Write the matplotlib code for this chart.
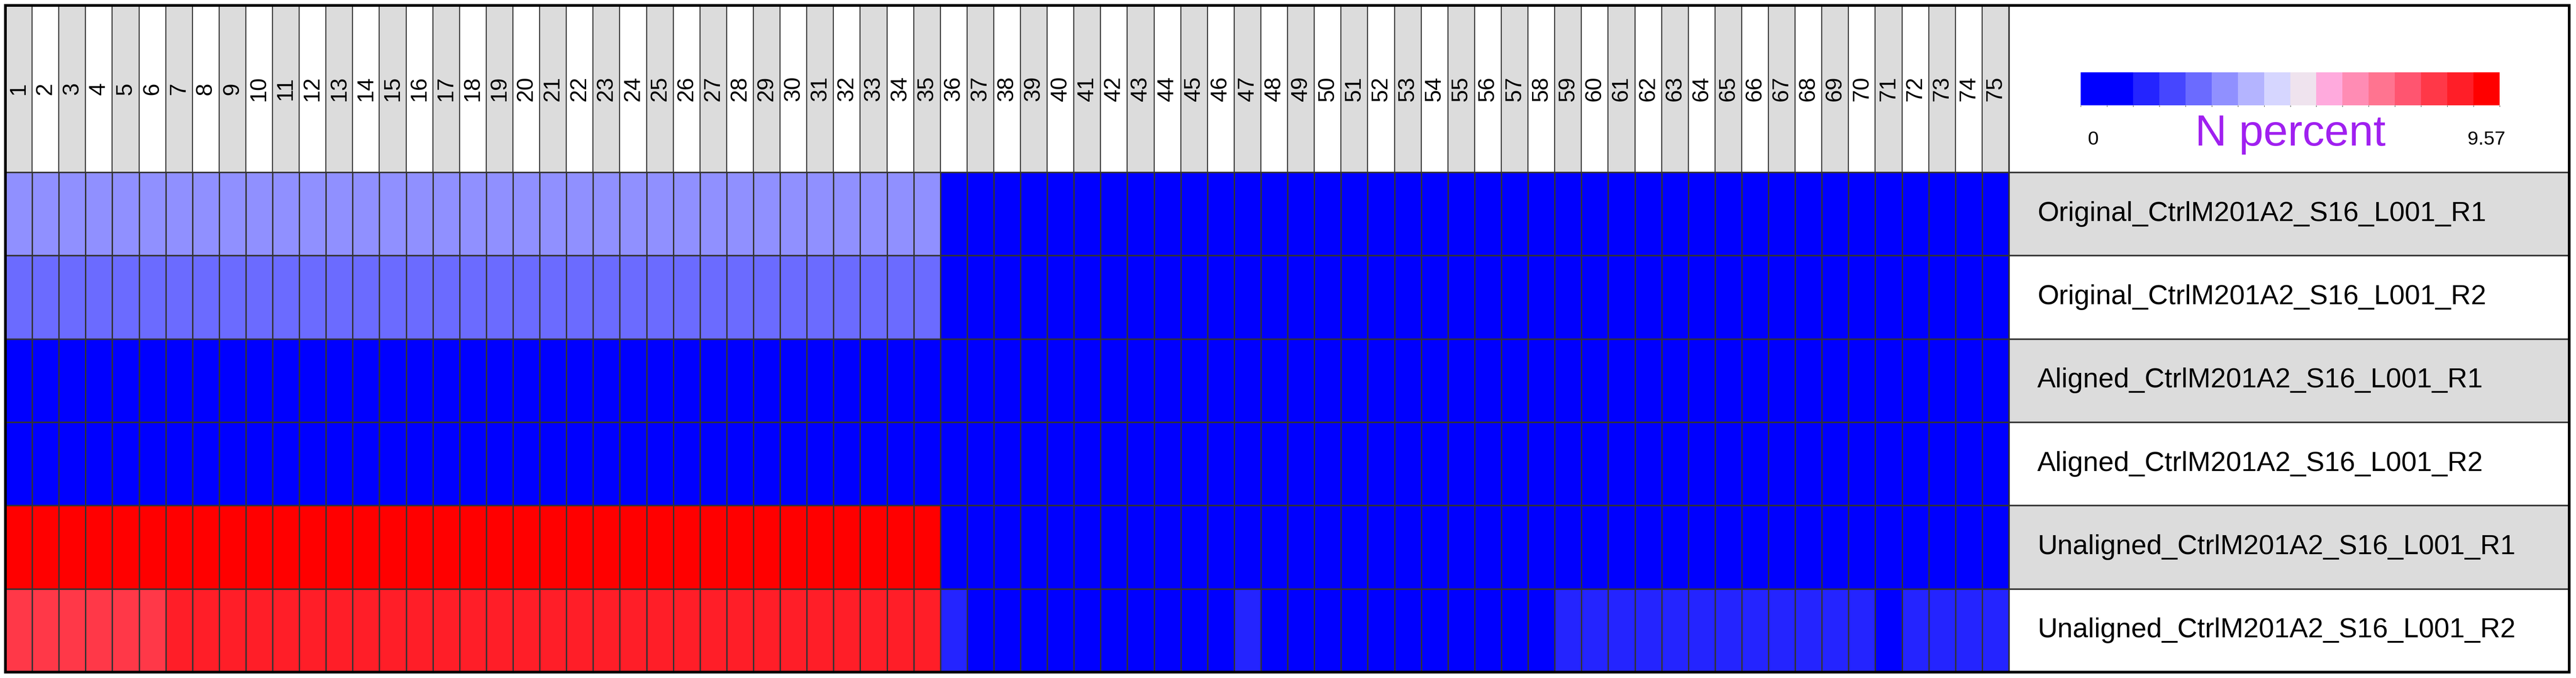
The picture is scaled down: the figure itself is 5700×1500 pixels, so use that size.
import numpy as np
import matplotlib.pyplot as plt
from matplotlib.colors import ListedColormap, BoundaryNorm

plt.rcParams['font.family'] = ['Liberation Sans', 'DejaVu Sans']

samples = [
    "Original_CtrlM201A2_S16_L001_R1",
    "Original_CtrlM201A2_S16_L001_R2",
    "Aligned_CtrlM201A2_S16_L001_R1",
    "Aligned_CtrlM201A2_S16_L001_R2",
    "Unaligned_CtrlM201A2_S16_L001_R1",
    "Unaligned_CtrlM201A2_S16_L001_R2",
]
positions = [str(i) for i in range(1, 76)]

# N percent per read position
original_r1 = [3.3, 3.3, 3.3, 3.3, 3.3, 3.3, 3.3, 3.3, 3.3, 3.3, 3.3, 3.3, 3.3, 3.3, 3.3,
               3.3, 3.3, 3.3, 3.3, 3.3, 3.3, 3.3, 3.3, 3.3, 3.3, 3.3, 3.3, 3.3, 3.3, 3.3,
               3.3, 3.3, 3.3, 3.3, 3.3, 0.0, 0.0, 0.0, 0.0, 0.0, 0.0, 0.0, 0.0, 0.0, 0.0,
               0.0, 0.0, 0.0, 0.0, 0.0, 0.0, 0.0, 0.0, 0.0, 0.0, 0.0, 0.0, 0.0, 0.0, 0.0,
               0.0, 0.0, 0.0, 0.0, 0.0, 0.0, 0.0, 0.0, 0.0, 0.0, 0.0, 0.0, 0.0, 0.0, 0.0]
original_r2 = [2.7, 2.7, 2.7, 2.7, 2.7, 2.7, 2.7, 2.7, 2.7, 2.7, 2.7, 2.7, 2.7, 2.7, 2.7,
               2.7, 2.7, 2.7, 2.7, 2.7, 2.7, 2.7, 2.7, 2.7, 2.7, 2.7, 2.7, 2.7, 2.7, 2.7,
               2.7, 2.7, 2.7, 2.7, 2.7, 0.0, 0.0, 0.0, 0.0, 0.0, 0.0, 0.0, 0.0, 0.0, 0.0,
               0.0, 0.0, 0.0, 0.0, 0.0, 0.0, 0.0, 0.0, 0.0, 0.0, 0.0, 0.0, 0.0, 0.0, 0.0,
               0.0, 0.0, 0.0, 0.0, 0.0, 0.0, 0.0, 0.0, 0.0, 0.0, 0.0, 0.0, 0.0, 0.0, 0.0]
aligned_r1 = [0.0, 0.0, 0.0, 0.0, 0.0, 0.0, 0.0, 0.0, 0.0, 0.0, 0.0, 0.0, 0.0, 0.0, 0.0,
              0.0, 0.0, 0.0, 0.0, 0.0, 0.0, 0.0, 0.0, 0.0, 0.0, 0.0, 0.0, 0.0, 0.0, 0.0,
              0.0, 0.0, 0.0, 0.0, 0.0, 0.0, 0.0, 0.0, 0.0, 0.0, 0.0, 0.0, 0.0, 0.0, 0.0,
              0.0, 0.0, 0.0, 0.0, 0.0, 0.0, 0.0, 0.0, 0.0, 0.0, 0.0, 0.0, 0.0, 0.0, 0.0,
              0.0, 0.0, 0.0, 0.0, 0.0, 0.0, 0.0, 0.0, 0.0, 0.0, 0.0, 0.0, 0.0, 0.0, 0.0]
aligned_r2 = [0.0, 0.0, 0.0, 0.0, 0.0, 0.0, 0.0, 0.0, 0.0, 0.0, 0.0, 0.0, 0.0, 0.0, 0.0,
              0.0, 0.0, 0.0, 0.0, 0.0, 0.0, 0.0, 0.0, 0.0, 0.0, 0.0, 0.0, 0.0, 0.0, 0.0,
              0.0, 0.0, 0.0, 0.0, 0.0, 0.0, 0.0, 0.0, 0.0, 0.0, 0.0, 0.0, 0.0, 0.0, 0.0,
              0.0, 0.0, 0.0, 0.0, 0.0, 0.0, 0.0, 0.0, 0.0, 0.0, 0.0, 0.0, 0.0, 0.0, 0.0,
              0.0, 0.0, 0.0, 0.0, 0.0, 0.0, 0.0, 0.0, 0.0, 0.0, 0.0, 0.0, 0.0, 0.0, 0.0]
unaligned_r1 = [9.57, 9.57, 9.57, 9.57, 9.57, 9.57, 9.57, 9.57, 9.57, 9.57, 9.57, 9.57, 9.57, 9.57, 9.57,
                9.57, 9.57, 9.57, 9.57, 9.57, 9.57, 9.57, 9.57, 9.57, 9.57, 9.57, 9.57, 9.57, 9.57, 9.57,
                9.57, 9.57, 9.57, 9.57, 9.57, 0.0, 0.0, 0.0, 0.0, 0.0, 0.0, 0.0, 0.0, 0.0, 0.0,
                0.0, 0.0, 0.0, 0.0, 0.0, 0.0, 0.0, 0.0, 0.0, 0.0, 0.0, 0.0, 0.0, 0.0, 0.0,
                0.0, 0.0, 0.0, 0.0, 0.0, 0.0, 0.0, 0.0, 0.0, 0.0, 0.0, 0.0, 0.0, 0.0, 0.0]
unaligned_r2 = [8.0, 8.0, 8.0, 8.0, 8.0, 8.0, 8.7, 8.7, 8.7, 8.7, 8.7, 8.7, 8.7, 8.7, 8.7,
                8.7, 8.7, 8.7, 8.7, 8.7, 8.7, 8.7, 8.7, 8.7, 8.7, 8.7, 8.7, 8.7, 8.7, 8.7,
                8.7, 8.7, 8.7, 8.7, 8.7, 1.4, 0.0, 0.0, 0.0, 0.0, 0.0, 0.0, 0.0, 0.0, 0.0,
                0.0, 1.4, 0.0, 0.0, 0.0, 0.0, 0.0, 0.0, 0.0, 0.0, 0.0, 0.0, 0.0, 1.4, 1.4,
                1.4, 1.4, 1.4, 1.4, 1.4, 1.4, 1.4, 1.4, 1.4, 1.4, 0.0, 1.4, 1.4, 1.4, 1.4]

vmin, vmax = 0, 9.57
palette = ['#0000FF', '#0000FF', '#2424FF', '#4646FF', '#6B6BFF', '#9090FF', '#B4B4FF', '#D6D6FF',
           '#EFE3EE', '#FFAADD', '#FF8CB4', '#FF7490', '#FF5570', '#FF3848', '#FF1E28', '#FF0000']

data = np.array([original_r1, original_r2, aligned_r1, aligned_r2, unaligned_r1, unaligned_r2])
cmap = ListedColormap(palette)
bounds = np.linspace(vmin, vmax, len(palette) + 1)
norm = BoundaryNorm(bounds, cmap.N)

W, H = 5700, 1500
fig = plt.figure(figsize=(57, 15), dpi=100)

# layout in pixels: frame 12..5685 x 12..1487, header bottom 381, heatmap right 4445
x0, x1, x2 = 12, 4445, 5685
y0, y1, y2 = 12, 381, 1487
grid = '#333333'
gray = '#DCDCDC'

def px_axes(left, top, right, bottom):
    return fig.add_axes([left / W, 1 - bottom / H, (right - left) / W, (bottom - top) / H])

# heatmap
ax = px_axes(x0, y1, x1, y2)
mesh = ax.pcolormesh(data, cmap=cmap, norm=norm, edgecolors=grid, linewidth=2.0)
ax.hlines(np.arange(1, len(samples)), 0, data.shape[1], color=grid, linewidth=2.4)
ax.set_xlim(0, data.shape[1])
ax.set_ylim(len(samples), 0)
ax.set_xticks([])
ax.set_yticks([])
for s in ax.spines.values():
    s.set_color(grid)
    s.set_linewidth(2.4)

# column header
hax = px_axes(x0, y0, x1, y1)
xs = np.arange(len(positions)) + 0.5
hax.bar(xs, 1, width=1, bottom=0,
        color=[gray if i % 2 == 0 else 'white' for i in range(len(positions))],
        edgecolor=grid, linewidth=1.6)
for x, lab in zip(xs, positions):
    hax.text(x, 0.5, lab, rotation=90, ha='center', va='center', fontsize=36)
hax.set_xlim(0, len(positions))
hax.set_ylim(0, 1)
hax.axis('off')

# row labels
lax = px_axes(x1, y1, x2, y2)
ys = np.arange(len(samples)) + 0.5
lax.barh(ys, 1, height=1, left=0,
         color=[gray if i % 2 == 0 else 'white' for i in range(len(samples))],
         edgecolor=grid, linewidth=2.4)
for y, lab in zip(ys, samples):
    lax.text(0.051, y, lab, ha='left', va='center', fontsize=44)
lax.set_xlim(0, 1)
lax.set_ylim(len(samples), 0)
lax.axis('off')

# legend cell
gax = px_axes(x1, y0, x2, y1)
gax.set_xticks([])
gax.set_yticks([])
for s in gax.spines.values():
    s.set_color(grid)
    s.set_linewidth(2.4)

cax = px_axes(4604, 160, 5531, 233)
cb = fig.colorbar(mesh, cax=cax, orientation='horizontal', spacing='uniform')
cb.outline.set_visible(False)
cb.set_ticks([])
cax.text(0.03, -1.19, '0', transform=cax.transAxes, ha='center', va='baseline', fontsize=31)
cax.text(0.968, -1.19, '9.57', transform=cax.transAxes, ha='center', va='baseline', fontsize=31)
cax.text(0.5, -1.22, 'N percent', transform=cax.transAxes, ha='center', va='baseline',
         fontsize=70, color='#A020F0')

# outer frame
fax = px_axes(x0, y0, x2, y2)
fax.patch.set_visible(False)
fax.set_xticks([])
fax.set_yticks([])
for s in fax.spines.values():
    s.set_color('black')
    s.set_linewidth(4.3)

fig.savefig('out.png', dpi=100)
